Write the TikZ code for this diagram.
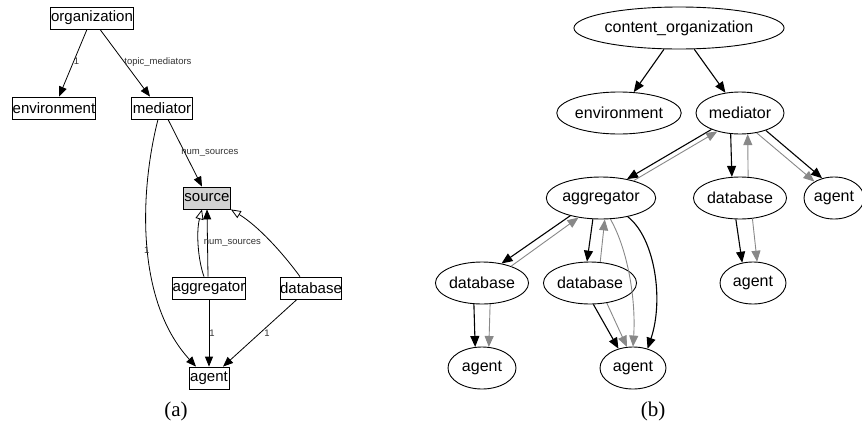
\documentclass[tikz,border=0pt]{standalone}
\usepackage{fontspec}
\setmainfont{Liberation Sans}
\newfontfamily\capfont{Liberation Serif}
\usetikzlibrary{arrows.meta,shapes.geometric}
\definecolor{edgegray}{RGB}{136,136,136}
\definecolor{srcfill}{RGB}{211,211,211}
\begin{document}
\begin{tikzpicture}[x=1pt,y=-1pt,
 box/.style={draw,rectangle,inner sep=0pt,minimum height=22pt,font=\fontsize{15}{15}\selectfont,line width=0.8pt},
 ell/.style={draw,ellipse,inner sep=0pt,minimum height=42pt,font=\fontsize{16}{16}\selectfont,line width=0.9pt},
 lbl/.style={font=\fontsize{9.5}{9.5}\selectfont,text=black!80,inner sep=1pt},
 edgeA/.style={line width=0.8pt,-{Triangle[length=10pt,width=8pt]}},
 edgeO/.style={line width=0.8pt,-{Triangle[open,length=10pt,width=8pt,fill=white]}},
 blk/.style={line width=1.1pt,-{Triangle[length=11pt,width=9pt]}},
 gry/.style={line width=0.9pt,draw=edgegray,-{Triangle[length=11pt,width=9pt,fill=edgegray]}},
 captext/.style={font=\capfont\fontsize{21}{21}\selectfont},
]
\useasboundingbox (0,0) rectangle (862,426);

% ---------- (a) ----------
\node[box,minimum width=83pt] (org) at (92,18) {organization};
\node[box,minimum width=83pt] (env) at (54,108) {environment};
\node[box,minimum width=61pt] (med) at (162,108) {mediator};
\node[box,minimum width=47pt,fill=srcfill] (src) at (207,198) {source};
\node[box,minimum width=72pt] (agg) at (209,288) {aggregator};
\node[box,minimum width=59pt] (db) at (311,288) {database};
\node[box,minimum width=40pt] (ag) at (209,378) {agent};
\node[captext] (capa) at (176,411) {(a)};

\draw[edgeA] ([xshift=-5pt]org.south) -- node[lbl,pos=0.48,anchor=west,xshift=-1pt] {1} ([xshift=5pt]env.north);
\draw[edgeA] ([xshift=8pt]org.south) -- node[lbl,pos=0.48,anchor=west,xshift=-1pt] {topic\_mediators} ([xshift=-12pt]med.north);
\draw[edgeA] ([xshift=6pt]med.south) -- node[lbl,pos=0.5,anchor=west,xshift=-5pt] {num\_sources} ([xshift=-5pt]src.north);
\draw[edgeA] ([xshift=-4pt]med.south) .. controls (140,190) and (135,300) .. node[lbl,pos=0.52,anchor=east,xshift=3pt] {1} ([xshift=-13pt]ag.north);
\draw[edgeA] ([xshift=-1pt]agg.north) -- node[lbl,pos=0.5,anchor=west,xshift=-5pt] {num\_sources} (src.south);
\draw[edgeO] ([xshift=-5pt]agg.north) .. controls (198,260) and (196,232) .. ([xshift=-5pt]src.south);
\draw[edgeO] ([xshift=-11pt]db.north) .. controls (282,252) and (258,226) .. (src.south east);
\draw[edgeA] (agg.south) -- node[lbl,pos=0.5,anchor=west,xshift=-1pt] {1} (ag.north);
\draw[edgeA] ([xshift=-14pt]db.south) -- node[lbl,pos=0.5,anchor=west,xshift=3pt] {1} ([xshift=14pt]ag.north);

% ---------- (b) ----------
\node[ell,minimum width=170pt] (co) at (679,28) {content\_organization};
\node[ell,minimum width=112pt] (benv) at (619,113) {environment};
\node[ell,minimum width=88pt] (bmed) at (740,113) {mediator};
\node[ell,minimum width=98pt] (bagg) at (601,198) {aggregator};
\node[ell,minimum width=86pt] (bdbr) at (740,198) {database};
\node[ell,minimum width=60pt] (bagr) at (834,198) {agent};
\node[ell,minimum width=88pt] (bdbl) at (482,283) {database};
\node[ell,minimum width=86pt] (bdbm) at (590,283) {database};
\node[ell,minimum width=66pt] (bagrr) at (753,283) {agent};
\node[ell,minimum width=68pt] (bagl) at (482,368) {agent};
\node[ell,minimum width=66pt] (bagm) at (633,368) {agent};
\node[captext] (capb) at (653,411) {(b)};

\draw[blk] (co) -- (benv);
\draw[blk] (co) -- (bmed);
% mediator - aggregator
\draw[blk] (bmed.-150) -- (bagg.36);
\draw[gry] (bagg.28) -- (bmed.-141);
% mediator - database
\draw[blk] (bmed.-114) -- (bdbr.111);
\draw[gry] (bdbr.69) -- (bmed.-70);
% mediator - agent
\draw[blk] (bmed.-34) -- (bagr.121);
\draw[gry] (bmed.-50) -- (bagr.140);
% aggregator - database left
\draw[blk] (bagg.-150) -- (bdbl.45);
\draw[gry] (bdbl.30) -- (bagg.-139);
% aggregator - database mid
\draw[blk] (bagg.-111) -- (bdbm.98);
\draw[gry] (bdbm.64) -- (bagg.-80);
% aggregator - agent mid
\draw[gry] (bagg.-66) .. controls (628,250) and (636,300) .. (bagm.90);
\draw[blk] (bagg.-35) .. controls (655,238) and (664,300) .. (bagm.53);
% database mid - agent mid
\draw[blk] (bdbm.-81) -- (bagm.127);
\draw[gry] (bdbm.-50) -- (bagm.106);
% database left - agent left
\draw[blk] (bdbl.-111) -- (bagl.108);
\draw[gry] (bdbl.-69) -- (bagl.72);
% database right - agent
\draw[blk] (bdbr.-101) -- (bagrr.118);
\draw[gry] (bdbr.-59) -- (bagrr.79);
\end{tikzpicture}
\end{document}
